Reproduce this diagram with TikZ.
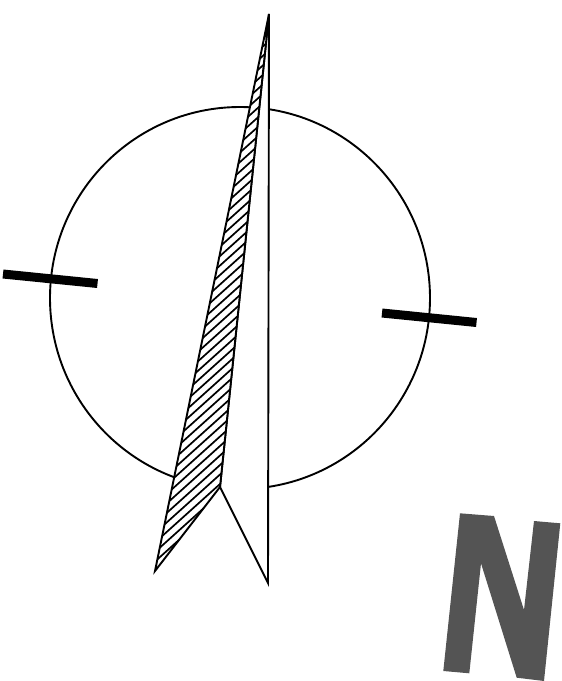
\documentclass[tikz,border=0pt]{standalone}
\tikzset{
  outline/.style={draw=black,line width=1.9pt,line join=miter},
  bar/.style={draw=black,line width=9pt},
  hatchline/.style={draw=black,line width=1.7pt},
  letter/.style={fill=black!67,draw=none}
}
\begin{document}
\begin{tikzpicture}[x=1pt,y=-1pt]
\useasboundingbox (0,0) rectangle (562,681);
% dial
\draw[outline] (240,298) ellipse[x radius=190,y radius=191];
% bars
\draw[bar] (3,274) -- (97.5,283.5);
\draw[bar] (382,313) -- (476.5,322.5);
% needle: white right half
\filldraw[outline,fill=white] (269,14) -- (268,583) -- (220,487) -- cycle;
% needle: hatched left half
\fill[white] (269,14) -- (155,571) -- (220,487) -- cycle;
\begin{scope}
\clip (269,14) -- (155,571) -- (220,487) -- cycle;
\foreach \i in {-45,...,25}{
  \draw[hatchline] (140,{404+\i*9.5}) -- (280,{404+\i*9.5-126});
}
\end{scope}
\draw[outline] (269,14) -- (155,571) -- (220,487) -- cycle;
% letter N
\fill[letter] (460,513.3) -- (494,516) -- (524,610) -- (534,521) -- (560.3,523.3) -- (544,681) -- (516.7,677.7) -- (481,563.3) -- (469.3,673.3) -- (443.3,671) -- cycle;
\end{tikzpicture}
\end{document}
